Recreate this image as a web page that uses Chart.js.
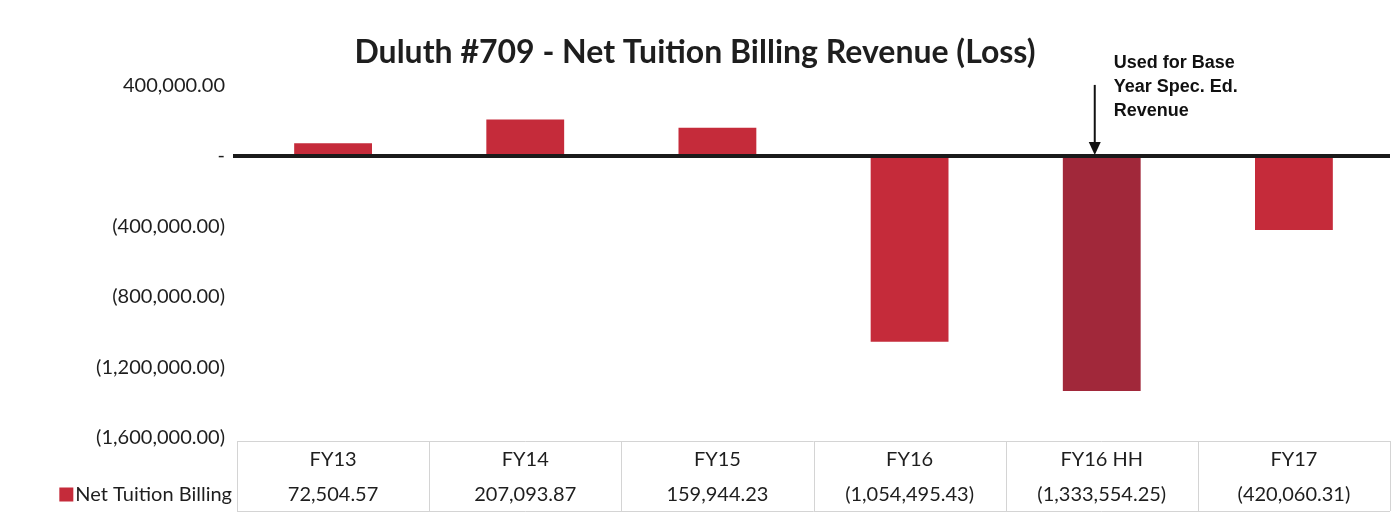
<!DOCTYPE html>
<html>
<head>
<meta charset="utf-8">
<script src="https://cdn.jsdelivr.net/npm/chart.js@4.4.1/dist/chart.umd.min.js"></script>
<style>
  html, body { margin:0; padding:0; background:#fff; }
  canvas { display:block; }
</style>
</head>
<body>
<canvas id="chart" width="1394" height="527"></canvas>
<script>
// ---- DATA ----
const categories = ['FY13', 'FY14', 'FY15', 'FY16', 'FY16 HH', 'FY17'];
const netTuition = [72504.57, 207093.87, 159944.23, -1054495.43, -1333554.25, -420060.31];
const yTicks = [400000, 0, -400000, -800000, -1200000, -1600000];
const seriesName = 'Net Tuition Billing';
const highlightCat = 'FY16 HH';
const noteLines = ['Used for Base', 'Year Spec. Ed.', 'Revenue'];

const RED = '#C52B3A', DARK_RED = '#A1283A';
const BODY_FONT = 'Lato, "Open Sans", sans-serif';

// accounting style: 1,234.00 / (1,234.00) / -
function acct(v) {
  if (v === 0) return '-';
  const s = Math.abs(v).toLocaleString('en-US', {minimumFractionDigits:2, maximumFractionDigits:2});
  return v < 0 ? '(' + s + ')' : s;
}

// ---- PLUGINS ----
// thick zero line, drawn over the bar ends
const zeroLine = {
  id: 'zeroLine',
  afterDatasetsDraw(chart) {
    const {ctx, chartArea:a, scales:{y}} = chart;
    const py = y.getPixelForValue(0);
    ctx.save();
    ctx.strokeStyle = '#1a1a1a';
    ctx.lineWidth = 4;
    ctx.beginPath(); ctx.moveTo(a.left - 4, py); ctx.lineTo(a.right, py); ctx.stroke();
    ctx.restore();
  }
};

// arrow + note pointing at the highlighted bar
const baseNote = {
  id: 'baseNote',
  afterDatasetsDraw(chart) {
    const {ctx, scales:{x, y}} = chart;
    const ax = x.getPixelForValue(categories.indexOf(highlightCat)) - 7;
    const tip = y.getPixelForValue(0) - 1;
    ctx.save();
    ctx.strokeStyle = '#111'; ctx.fillStyle = '#111'; ctx.lineWidth = 2;
    ctx.beginPath(); ctx.moveTo(ax, tip - 70); ctx.lineTo(ax, tip - 10); ctx.stroke();
    ctx.beginPath(); ctx.moveTo(ax - 6, tip - 13); ctx.lineTo(ax + 6, tip - 13); ctx.lineTo(ax, tip); ctx.closePath(); ctx.fill();
    ctx.font = 'bold 18px "Liberation Sans Narrow", "Liberation Sans", Arial, sans-serif';
    ctx.textAlign = 'left'; ctx.textBaseline = 'middle';
    noteLines.forEach((t, i) => ctx.fillText(t, ax + 19, 63 + i * 24));
    ctx.restore();
  }
};

// Excel-style data table under the plot
const dataTable = {
  id: 'dataTable',
  afterDraw(chart) {
    const {ctx, chartArea:a, scales:{x}} = chart;
    const n = categories.length;
    const cw = (a.right - a.left) / n;
    const top = a.bottom + 3, rowH = 35, bot = top + rowH * 2;
    ctx.save();
    ctx.strokeStyle = '#d4d4d4'; ctx.lineWidth = 1;
    ctx.beginPath();
    ctx.moveTo(a.left, top + 0.5); ctx.lineTo(a.right, top + 0.5);
    ctx.moveTo(a.left, bot + 0.5); ctx.lineTo(a.right, bot + 0.5);
    for (let i = 0; i <= n; i++) {
      const bx = Math.round(a.left + i * cw) + 0.5;
      ctx.moveTo(bx, top); ctx.lineTo(bx, bot);
    }
    ctx.stroke();

    ctx.fillStyle = '#1e1e1e';
    ctx.font = '20px ' + BODY_FONT;
    ctx.textAlign = 'center'; ctx.textBaseline = 'middle';
    categories.forEach((c, i) => {
      const cx = x.getPixelForValue(i);
      ctx.fillText(c, cx, top + rowH / 2 + 1);
      ctx.fillText(acct(netTuition[i]), cx, top + rowH * 1.5 + 1);
    });

    // legend key + series name
    ctx.textAlign = 'right';
    const tx = a.left - 5;
    ctx.fillText(seriesName, tx, top + rowH * 1.5 + 1);
    const tw = ctx.measureText(seriesName).width;
    ctx.fillStyle = RED;
    ctx.fillRect(tx - tw - 16, top + rowH * 1.5 - 6, 14, 14);
    ctx.restore();
  }
};

// ---- CHART ----
new Chart(document.getElementById('chart'), {
  type: 'bar',
  data: {
    labels: categories,
    datasets: [{
      label: seriesName,
      data: netTuition,
      backgroundColor: categories.map(c => c === highlightCat ? DARK_RED : RED),
      borderWidth: 0,
      categoryPercentage: 1,
      barPercentage: 0.405
    }]
  },
  options: {
    responsive: false,
    animation: false,
    layout: { padding: { left: 0, right: 4, top: 0, bottom: 89 } },
    plugins: {
      legend: { display: false },
      tooltip: { enabled: false },
      title: {
        display: true,
        text: 'Duluth #709 - Net Tuition Billing Revenue (Loss)',
        color: '#1e1e1e',
        font: { family: BODY_FONT, size: 32, weight: 'bold' },
        padding: { top: 33, bottom: 14 }
      }
    },
    scales: {
      x: { display: false },
      y: {
        min: -1600000, max: 400000,
        afterBuildTicks: s => { s.ticks = yTicks.map(v => ({value: v})); },
        afterFit: s => { s.width = 237; },
        border: { display: false },
        grid: { display: false, drawTicks: false },
        ticks: {
          padding: 12,
          color: '#1e1e1e',
          font: { family: BODY_FONT, size: 20 },
          callback: v => acct(v)
        }
      }
    }
  },
  plugins: [zeroLine, baseNote, dataTable]
});
</script>
</body>
</html>
